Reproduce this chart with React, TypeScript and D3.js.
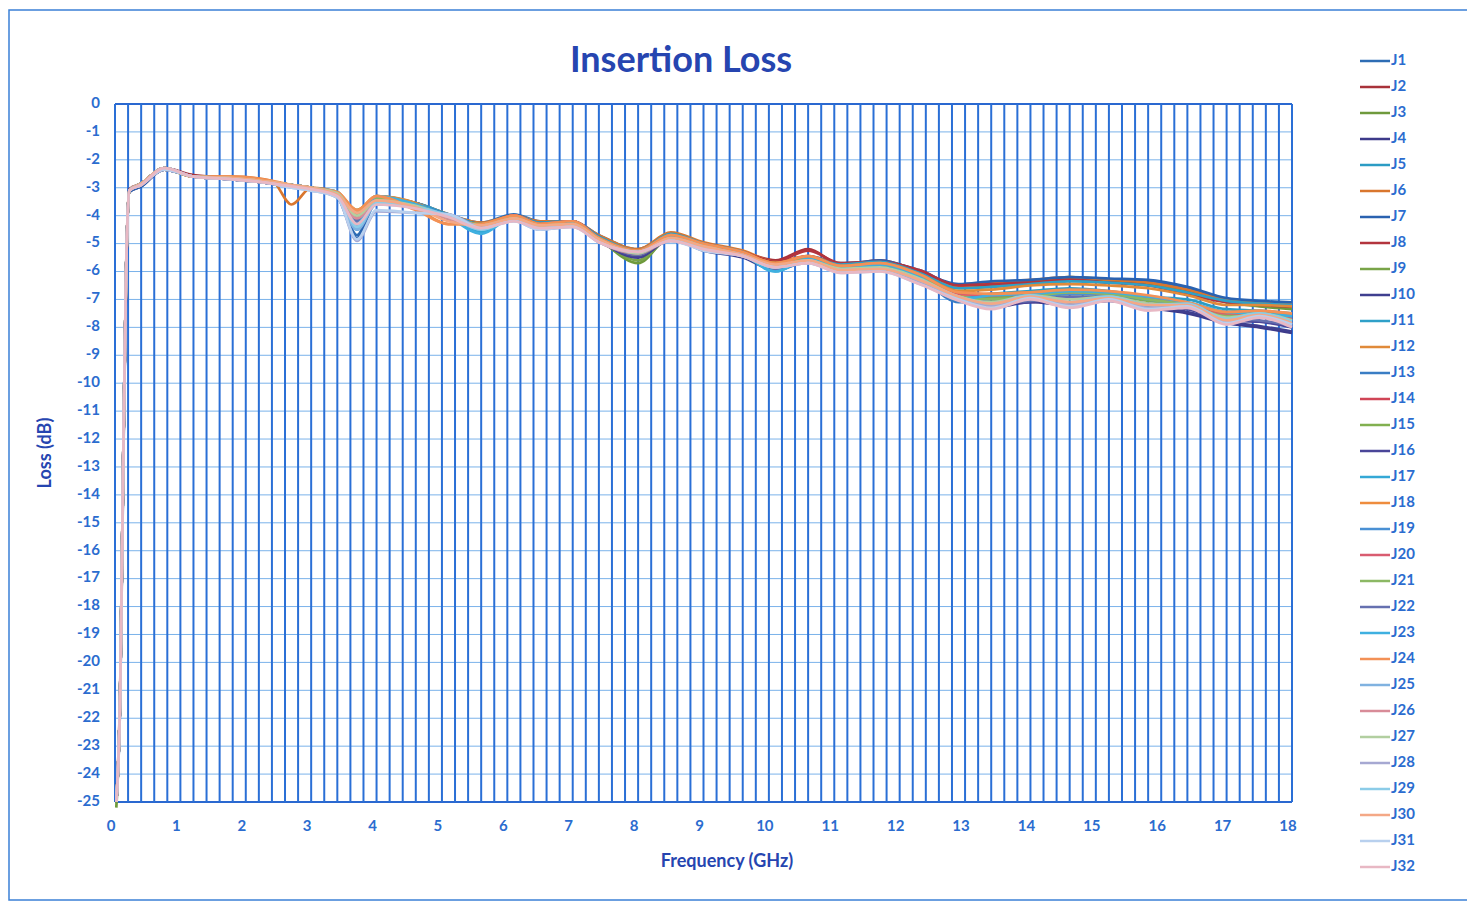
import React from 'react';
import * as d3 from 'd3';

// frequency points (GHz) shared by every trace
const FREQ = [0.02, 0.08, 0.13, 0.17, 0.22, 0.4, 0.75, 1.2, 1.8, 2.4, 2.7, 3.0, 3.4, 3.7, 4.0, 4.6, 5.1, 5.6, 6.1, 6.5, 7.0, 7.4, 8.0, 8.5, 9.0, 9.6, 10.1, 10.6, 11.1, 11.7, 12.3, 12.9, 13.4, 14.0, 14.6, 15.2, 15.8, 16.4, 17.0, 17.5, 18.0];

const J1 = [-25, -21.2, -12.4, -6.2, -3.1, -2.9, -2.3, -2.6, -2.7, -2.85, -2.95, -3.05, -3.3, -4.7, -3.4, -3.55, -3.95, -4.25, -3.95, -4.2, -4.2, -4.7, -5.2, -4.7, -5.0, -5.3, -5.8, -5.45, -5.7, -5.65, -5.95, -6.5, -6.45, -6.35, -6.25, -6.3, -6.35, -6.6, -7.0, -7.1, -7.2];
const J2 = [-25, -20.8, -12, -5.9, -3.05, -2.85, -2.3, -2.55, -2.65, -2.8, -2.9, -3.0, -3.25, -3.9, -3.35, -3.6, -4.05, -4.35, -4.05, -4.3, -4.2, -4.75, -5.25, -4.7, -5.0, -5.3, -5.6, -5.2, -5.75, -5.6, -6.0, -6.55, -6.5, -6.4, -6.3, -6.35, -6.45, -6.7, -7.05, -7.2, -7.3];
const J3 = [-25.2, -21, -12.2, -6, -3.1, -2.85, -2.35, -2.6, -2.65, -2.8, -2.9, -3.0, -3.2, -3.8, -3.35, -3.6, -4.1, -4.3, -4.0, -4.3, -4.25, -4.85, -5.7, -4.75, -5.05, -5.3, -5.75, -5.5, -5.8, -5.7, -6.05, -6.6, -6.55, -6.4, -6.2, -6.3, -6.45, -6.75, -7.1, -7.25, -7.35];
const J4 = [-25, -21.1, -12.1, -6.1, -3.15, -2.95, -2.35, -2.6, -2.7, -2.85, -2.95, -3.05, -3.3, -4.3, -3.45, -3.65, -4.1, -4.4, -4.05, -4.35, -4.3, -4.85, -5.45, -4.8, -5.2, -5.45, -5.9, -5.6, -6.0, -5.85, -6.3, -7.0, -7.3, -7.1, -7.2, -7.05, -7.3, -7.5, -7.85, -8.0, -8.2];
const J5 = [-25, -21, -12, -6, -3.1, -2.85, -2.3, -2.6, -2.65, -2.8, -2.9, -3.0, -3.15, -4.1, -3.3, -3.55, -4.0, -4.55, -4.0, -4.45, -4.2, -4.8, -5.3, -4.7, -5.1, -5.35, -5.95, -5.5, -5.85, -5.7, -6.15, -6.9, -6.8, -6.7, -6.6, -6.7, -6.9, -7.0, -7.35, -7.4, -7.5];
const J6 = [-25, -20.9, -11.9, -6, -3.1, -2.85, -2.3, -2.6, -2.6, -2.75, -3.6, -3.0, -3.15, -3.85, -3.3, -3.55, -3.95, -4.25, -4.0, -4.2, -4.2, -4.7, -5.2, -4.6, -4.95, -5.25, -5.65, -5.45, -5.75, -5.65, -6.0, -6.55, -6.4, -6.3, -6.2, -6.3, -6.4, -6.65, -7.0, -7.1, -7.15];
const J7 = [-25, -21, -12, -6, -3.15, -2.95, -2.3, -2.6, -2.7, -2.85, -2.95, -3.05, -3.35, -4.8, -3.5, -3.6, -4.0, -4.3, -4.0, -4.25, -4.2, -4.75, -5.3, -4.7, -5.05, -5.35, -5.75, -5.5, -5.75, -5.6, -6.0, -6.45, -6.35, -6.3, -6.2, -6.25, -6.3, -6.55, -6.95, -7.05, -7.1];
const J8 = [-25, -21, -12.1, -6.1, -3.1, -2.85, -2.3, -2.6, -2.65, -2.8, -2.9, -3.0, -3.2, -4.0, -3.35, -3.55, -4.0, -4.3, -4.0, -4.3, -4.2, -4.8, -5.3, -4.7, -5.0, -5.3, -5.65, -5.25, -5.7, -5.65, -5.95, -6.5, -6.45, -6.4, -6.3, -6.4, -6.5, -6.8, -7.1, -7.2, -7.25];
const J9 = [-25, -21, -12, -6, -3.1, -2.9, -2.35, -2.6, -2.7, -2.85, -2.95, -3.05, -3.25, -3.9, -3.35, -3.6, -4.05, -4.35, -4.05, -4.35, -4.3, -4.85, -5.6, -4.8, -5.1, -5.4, -5.8, -5.55, -5.85, -5.8, -6.15, -6.8, -6.9, -6.85, -6.7, -6.75, -6.95, -7.2, -7.55, -7.6, -7.7];
const J10 = [-25, -21, -12.1, -6, -3.1, -2.9, -2.35, -2.6, -2.7, -2.85, -2.95, -3.05, -3.3, -4.2, -3.4, -3.6, -4.1, -4.4, -4.1, -4.35, -4.3, -4.9, -5.5, -4.85, -5.25, -5.5, -5.95, -5.65, -6.0, -5.9, -6.35, -7.05, -7.25, -7.0, -7.15, -7.0, -7.25, -7.45, -7.8, -7.95, -8.15];
const J11 = [-25, -21, -12, -6, -3.1, -2.85, -2.3, -2.6, -2.65, -2.8, -2.9, -3.0, -3.2, -4.3, -3.35, -3.55, -3.95, -4.3, -4.0, -4.25, -4.2, -4.75, -5.25, -4.65, -5.0, -5.3, -5.75, -5.5, -5.75, -5.65, -6.05, -6.6, -6.55, -6.45, -6.35, -6.4, -6.5, -6.75, -7.05, -7.15, -7.2];
const J12 = [-25, -21, -12, -6, -3.1, -2.85, -2.3, -2.6, -2.65, -2.8, -2.95, -3.0, -3.2, -3.8, -3.3, -3.55, -4.1, -4.3, -4.0, -4.3, -4.25, -4.8, -5.3, -4.75, -5.05, -5.35, -5.7, -5.5, -5.8, -5.7, -6.1, -6.7, -6.65, -6.5, -6.45, -6.5, -6.6, -6.85, -7.2, -7.2, -7.25];
const J13 = [-25, -21, -12, -6, -3.1, -2.85, -2.3, -2.6, -2.65, -2.8, -2.9, -3.0, -3.2, -4.4, -3.4, -3.6, -4.0, -4.6, -4.05, -4.4, -4.25, -4.85, -5.35, -4.75, -5.1, -5.4, -5.95, -5.55, -5.9, -5.75, -6.2, -7.1, -6.95, -6.85, -6.7, -6.8, -6.95, -7.15, -7.6, -7.55, -7.7];
const J14 = [-25, -21, -12, -6, -3.1, -2.85, -2.3, -2.6, -2.65, -2.8, -2.9, -3.0, -3.2, -4.0, -3.4, -3.6, -4.1, -4.35, -4.0, -4.35, -4.25, -4.8, -5.35, -4.75, -5.05, -5.35, -5.7, -5.5, -5.95, -5.75, -6.2, -6.85, -6.95, -6.9, -6.75, -6.8, -7.0, -7.15, -7.55, -7.5, -7.7];
const J15 = [-25, -21, -12, -6, -3.1, -2.85, -2.3, -2.6, -2.65, -2.8, -2.9, -3.0, -3.2, -3.95, -3.35, -3.6, -4.05, -4.3, -4.05, -4.3, -4.3, -4.8, -5.35, -4.75, -5.05, -5.35, -5.7, -5.5, -5.85, -5.75, -6.15, -6.8, -6.9, -6.95, -6.8, -6.85, -7.05, -7.2, -7.5, -7.45, -7.6];
const J16 = [-25, -21, -12, -6, -3.1, -2.9, -2.35, -2.6, -2.7, -2.85, -2.95, -3.05, -3.25, -4.1, -3.45, -3.65, -4.1, -4.4, -4.1, -4.4, -4.3, -4.9, -5.45, -4.8, -5.15, -5.45, -5.85, -5.6, -5.95, -5.85, -6.3, -6.95, -7.15, -7.1, -6.95, -7.0, -7.2, -7.35, -7.75, -7.8, -8.0];
const J17 = [-25, -21, -12, -6, -3.1, -2.85, -2.3, -2.6, -2.65, -2.8, -2.9, -3.0, -3.15, -4.2, -3.35, -3.6, -4.05, -4.6, -4.05, -4.4, -4.25, -4.8, -5.35, -4.7, -5.05, -5.4, -6.0, -5.55, -5.9, -5.8, -6.2, -6.9, -6.85, -6.8, -6.7, -6.75, -6.9, -7.1, -7.45, -7.5, -7.6];
const J18 = [-25, -21, -12, -6, -3.1, -2.85, -2.3, -2.6, -2.65, -2.8, -2.9, -3.0, -3.2, -3.85, -3.3, -3.75, -4.3, -4.3, -4.0, -4.3, -4.2, -4.85, -5.3, -4.7, -5.05, -5.35, -5.7, -5.5, -5.85, -5.75, -6.15, -6.85, -6.8, -6.75, -6.7, -6.75, -6.9, -7.15, -7.45, -7.45, -7.55];
const J19 = [-25, -21, -12, -6, -3.1, -2.85, -2.3, -2.6, -2.65, -2.8, -2.9, -3.0, -3.25, -4.5, -3.45, -3.6, -4.05, -4.45, -4.05, -4.35, -4.25, -4.85, -5.35, -4.75, -5.1, -5.4, -5.9, -5.55, -5.9, -5.8, -6.2, -6.95, -7.0, -6.95, -6.8, -6.85, -7.0, -7.25, -7.6, -7.6, -7.8];
const J20 = [-25, -21, -12, -6, -3.1, -2.85, -2.3, -2.6, -2.65, -2.8, -2.9, -3.0, -3.2, -3.95, -3.35, -3.6, -4.1, -4.35, -4.0, -4.3, -4.2, -4.8, -5.3, -4.75, -5.05, -5.35, -5.75, -5.45, -5.9, -5.75, -6.15, -6.8, -6.85, -6.8, -6.75, -6.8, -6.95, -7.2, -7.55, -7.55, -7.7];
const J21 = [-25, -21, -12, -6, -3.1, -2.85, -2.3, -2.6, -2.65, -2.8, -2.9, -3.0, -3.2, -3.9, -3.35, -3.6, -4.1, -4.35, -4.05, -4.35, -4.3, -4.85, -5.4, -4.8, -5.1, -5.4, -5.8, -5.55, -5.9, -5.8, -6.2, -6.9, -7.0, -6.9, -6.75, -6.8, -7.0, -7.2, -7.6, -7.6, -7.75];
const J22 = [-25, -21, -12, -6, -3.1, -2.9, -2.35, -2.6, -2.7, -2.85, -2.95, -3.05, -3.25, -4.2, -3.45, -3.65, -4.1, -4.4, -4.1, -4.4, -4.3, -4.9, -5.4, -4.8, -5.15, -5.45, -5.9, -5.6, -6.0, -5.85, -6.3, -7.0, -7.1, -7.05, -6.9, -6.95, -7.15, -7.3, -7.7, -7.75, -7.95];
const J23 = [-25, -21, -12, -6, -3.1, -2.85, -2.3, -2.6, -2.65, -2.8, -2.9, -3.0, -3.15, -4.3, -3.3, -3.6, -4.05, -4.65, -4.05, -4.45, -4.25, -4.8, -5.3, -4.7, -5.1, -5.4, -6.0, -5.55, -5.9, -5.75, -6.2, -7.0, -6.85, -6.8, -6.7, -6.75, -6.9, -7.1, -7.45, -7.5, -7.6];
const J24 = [-25, -21, -12, -6, -3.1, -2.85, -2.3, -2.6, -2.6, -2.75, -2.9, -3.0, -3.15, -3.8, -3.3, -3.8, -4.3, -4.3, -4.0, -4.3, -4.2, -4.8, -5.25, -4.7, -5.0, -5.3, -5.7, -5.45, -5.8, -5.7, -6.1, -6.75, -6.8, -6.75, -6.65, -6.7, -6.85, -7.1, -7.45, -7.4, -7.5];
const J25 = [-25, -21, -12, -6, -3.1, -2.9, -2.3, -2.6, -2.7, -2.85, -2.95, -3.05, -3.3, -4.5, -3.6, -3.7, -4.0, -4.5, -4.15, -4.5, -4.35, -4.95, -5.3, -4.85, -5.2, -5.45, -5.85, -5.7, -6.0, -5.9, -6.35, -6.95, -7.25, -6.9, -7.2, -6.95, -7.3, -7.2, -7.8, -7.55, -7.9];
const J26 = [-25, -21, -12, -6, -3.1, -2.85, -2.3, -2.6, -2.7, -2.85, -2.95, -3.05, -3.3, -4.1, -3.5, -3.7, -4.1, -4.4, -4.15, -4.4, -4.35, -4.95, -5.35, -4.9, -5.2, -5.4, -5.8, -5.65, -6.0, -5.95, -6.4, -7.0, -7.3, -6.95, -7.25, -7.0, -7.35, -7.2, -7.85, -7.6, -7.95];
const J27 = [-25, -21, -12, -6, -3.1, -2.85, -2.3, -2.6, -2.65, -2.8, -2.9, -3.0, -3.2, -4.0, -3.45, -3.65, -4.05, -4.35, -4.1, -4.35, -4.3, -4.85, -5.35, -4.8, -5.1, -5.4, -5.8, -5.6, -5.9, -5.85, -6.25, -6.9, -7.1, -6.85, -7.0, -6.9, -7.15, -7.2, -7.65, -7.5, -7.75];
const J28 = [-25, -21, -12, -6, -3.1, -2.9, -2.35, -2.6, -2.7, -2.85, -3.0, -3.1, -3.35, -4.9, -3.85, -3.9, -3.95, -4.4, -4.2, -4.5, -4.4, -4.9, -5.3, -4.9, -5.2, -5.4, -5.8, -5.7, -6.0, -5.95, -6.4, -6.95, -7.2, -6.9, -7.2, -6.95, -7.3, -7.2, -7.8, -7.6, -7.95];
const J29 = [-25, -21, -12, -6, -3.1, -2.85, -2.3, -2.6, -2.7, -2.85, -2.95, -3.05, -3.25, -4.4, -3.55, -3.7, -4.0, -4.5, -4.15, -4.45, -4.35, -4.9, -5.3, -4.85, -5.15, -5.45, -5.85, -5.65, -5.95, -5.9, -6.3, -6.9, -7.15, -6.85, -7.1, -6.9, -7.2, -7.15, -7.7, -7.5, -7.8];
const J30 = [-25, -21, -12, -6, -3.1, -2.85, -2.3, -2.6, -2.65, -2.8, -2.9, -3.0, -3.25, -3.9, -3.45, -3.7, -4.2, -4.35, -4.1, -4.35, -4.3, -4.85, -5.3, -4.8, -5.1, -5.4, -5.75, -5.6, -5.95, -5.9, -6.3, -6.9, -7.15, -6.9, -7.1, -6.95, -7.2, -7.2, -7.75, -7.55, -7.85];
const J31 = [-25, -21, -12, -6, -3.1, -2.9, -2.35, -2.6, -2.7, -2.85, -3.0, -3.1, -3.35, -4.85, -3.8, -3.9, -3.95, -4.45, -4.2, -4.5, -4.4, -4.95, -5.3, -4.9, -5.25, -5.45, -5.85, -5.7, -6.05, -6.0, -6.45, -7.0, -7.3, -6.95, -7.25, -7.0, -7.35, -7.25, -7.85, -7.6, -7.9];
const J32 = [-25, -21, -12, -6, -3.1, -2.9, -2.3, -2.6, -2.7, -2.85, -2.95, -3.05, -3.3, -4.3, -3.6, -3.75, -4.05, -4.45, -4.2, -4.45, -4.4, -4.95, -5.3, -4.9, -5.2, -5.45, -5.85, -5.7, -6.05, -6.0, -6.45, -7.05, -7.35, -7.0, -7.3, -7.05, -7.4, -7.3, -7.9, -7.65, -8.0];

const SERIES_NAMES = ['J1', 'J2', 'J3', 'J4', 'J5', 'J6', 'J7', 'J8', 'J9', 'J10', 'J11', 'J12', 'J13', 'J14', 'J15', 'J16', 'J17', 'J18', 'J19', 'J20', 'J21', 'J22', 'J23', 'J24', 'J25', 'J26', 'J27', 'J28', 'J29', 'J30', 'J31', 'J32'];
const SERIES_VALUES = [J1, J2, J3, J4, J5, J6, J7, J8, J9, J10, J11, J12, J13, J14, J15, J16, J17, J18, J19, J20, J21, J22, J23, J24, J25, J26, J27, J28, J29, J30, J31, J32];
const COLORS = [
  '#2e6db4', '#a8323a', '#6f9a3c', '#3d3a8a', '#2c9cc4', '#d9762e',
  '#2a62b0', '#b3343d', '#79a448', '#3f3f8f', '#2fa0c8', '#e08a3a',
  '#3a7dc4', '#d04556', '#82b050', '#4a4698', '#35a8d6', '#ee8c3e',
  '#4a90d4', '#d95c70', '#8cb864', '#6670b0', '#3fb0e0', '#f39156',
  '#80b2e0', '#d88c98', '#b2cfa0', '#a6a8d2', '#8ccce8', '#f4a886',
  '#b8d0ee', '#e8b8c4'
];

const X_TICKS = d3.range(0, 19, 1);
const Y_TICKS = d3.range(0, -26, -1);

const W = 1467;
const H = 903;
const plot = { left: 115, top: 104, right: 1292, bottom: 802 };
const TICK_COLOR = '#2b6ccf';
const TITLE_COLOR = '#2645b0';
const FONT = 'Lato, "Open Sans", sans-serif';

export default function App() {
  const x = d3.scaleLinear().domain([0, 18]).range([plot.left, plot.right]);
  const y = d3.scaleLinear().domain([-25, 0]).range([plot.bottom, plot.top]);

  const line = d3.line<[number, number]>()
    .x(d => x(d[0]))
    .y(d => y(d[1]))
    .curve(d3.curveMonotoneX);

  const vGrid = d3.range(0, 18.0001, 0.2);

  return (
    <svg width={W} height={H} style={{ display: 'block', position: 'absolute', left: 0, top: 0, background: '#fff' }}>
      <rect x={9} y={10} width={W + 10} height={890} fill="#fff" stroke="#3b80d6" strokeWidth={1.5} />

      <text x={681} y={63} textAnchor="middle" dominantBaseline="middle" fontFamily={FONT} fontWeight={700} fontSize={36} fill={TITLE_COLOR}>
        Insertion Loss
      </text>

      {/* horizontal grid */}
      {Y_TICKS.map(v => (
        <line key={'h' + v} x1={plot.left} x2={plot.right} y1={y(v)} y2={y(v)}
          stroke={v === 0 || v === -25 ? '#2a68d0' : '#7ab2ea'} strokeWidth={v === 0 || v === -25 ? 2 : 1} />
      ))}
      {/* vertical grid, every 0.2 GHz */}
      {vGrid.map((v, i) => (
        <line key={'v' + i} x1={x(v)} x2={x(v)} y1={plot.top} y2={plot.bottom} stroke="#2a6fd6" strokeWidth={2} />
      ))}

      {SERIES_VALUES.map((vals, i) => (
        <path key={SERIES_NAMES[i]} d={line(FREQ.map((f, k) => [f, vals[k]] as [number, number])) || ''}
          fill="none" stroke={COLORS[i]} strokeWidth={2.7} strokeLinejoin="round" />
      ))}

      {Y_TICKS.map(v => (
        <text key={'yt' + v} x={100} y={y(v)} textAnchor="end" dominantBaseline="middle"
          fontFamily={FONT} fontWeight={700} fontSize={15} fill={TICK_COLOR}>{v}</text>
      ))}
      {X_TICKS.map(v => (
        <text key={'xt' + v} x={x(v) - 4} y={827} textAnchor="middle" dominantBaseline="middle"
          fontFamily={FONT} fontWeight={700} fontSize={15} fill={TICK_COLOR}>{v}</text>
      ))}

      <text x={727} y={862} textAnchor="middle" dominantBaseline="middle" fontFamily={FONT} fontWeight={700} fontSize={18} fill={TITLE_COLOR}>
        Frequency (GHz)
      </text>
      <text transform="translate(46,453) rotate(-90)" textAnchor="middle" dominantBaseline="middle" fontFamily={FONT} fontWeight={700} fontSize={18} fill={TITLE_COLOR}>
        Loss (dB)
      </text>

      {SERIES_NAMES.map((name, i) => (
        <g key={'lg' + name} transform={`translate(1360,${61 + i * 26})`}>
          <line x1={0} x2={30} y1={0} y2={0} stroke={COLORS[i]} strokeWidth={2.5} />
          <text x={31} y={0} dominantBaseline="middle" fontFamily={FONT} fontWeight={700} fontSize={15} fill={TICK_COLOR}>{name}</text>
        </g>
      ))}
    </svg>
  );
}
